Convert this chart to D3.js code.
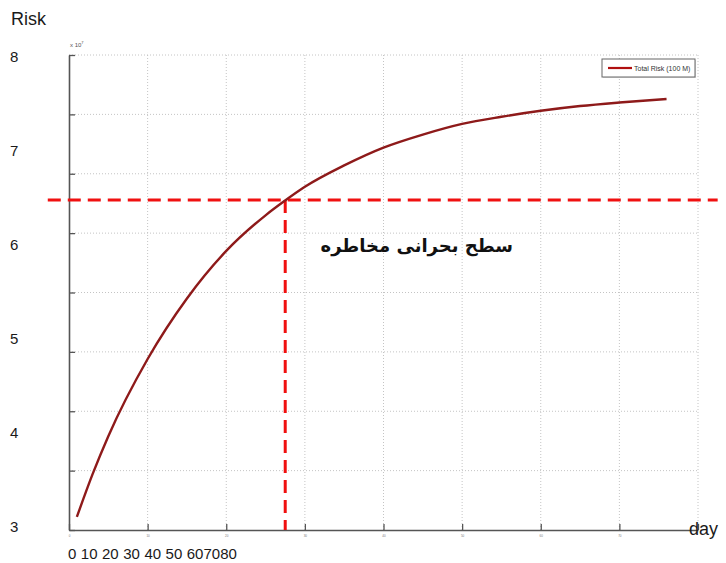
<!DOCTYPE html>
<html>
<head>
<meta charset="utf-8">
<script src="https://cdn.jsdelivr.net/npm/d3@7"></script>
<style>
  body { margin: 0; background: #fff; }
  svg { display: block; }
</style>
</head>
<body>
<svg id="chart" width="726" height="563"></svg>
<script>
// Data (risk in units of 10^7)
var days = [1, 3, 5, 10, 15, 20, 25, 27.4, 30, 35, 40, 45, 50, 55, 60, 65, 70, 76];
var risk = [3.11, 3.47, 3.79, 4.44, 4.95, 5.35, 5.65, 5.77, 5.89, 6.07, 6.22, 6.33, 6.42, 6.48, 6.53, 6.57, 6.60, 6.63];
var criticalDay = 27.5;
var criticalRisk = 5.78;
var dayTicks = [0, 10, 20, 30, 40, 50, 60, 70, 80];
var riskTicks = [3, 3.5, 4, 4.5, 5, 5.5, 6, 6.5, 7];
var outerRiskLabels = [3, 4, 5, 6, 7, 8];
var dayLabels = ["0", "10", "20", "30", "40", "50", "60", "70", "80"];
var legendLabel = "Total Risk (100 M)";
var noteText = "سطح بحرانی مخاطره";

var svg = d3.select("#chart");

// Dimensions
var plotLeft = 69, plotRight = 698, plotTop = 55, plotBottom = 530;

var x = d3.scaleLinear().domain([0, 80]).range([plotLeft, plotRight]);
var y = d3.scaleLinear().domain([3, 7]).range([plotBottom, plotTop]);
// hand written risk labels sit on their own scale
var yOuter = d3.scaleLinear().domain([3, 8]).range([527, 57]);

// grid
var grid = svg.append("g").attr("class", "grid");
grid.selectAll("line.vx")
  .data(dayTicks.slice(1))
  .enter().append("line")
  .attr("x1", function(d) { return x(d); })
  .attr("x2", function(d) { return x(d); })
  .attr("y1", plotTop).attr("y2", plotBottom);
grid.selectAll("line.hy")
  .data(riskTicks.slice(1))
  .enter().append("line")
  .attr("x1", plotLeft).attr("x2", plotRight)
  .attr("y1", function(d) { return y(d); })
  .attr("y2", function(d) { return y(d); });
grid.selectAll("line")
  .attr("stroke", "#c4c4c4")
  .attr("stroke-width", 1)
  .attr("stroke-dasharray", "1,2");

// axes
var xAxis = svg.append("g")
  .attr("transform", "translate(0," + plotBottom + ")")
  .call(d3.axisBottom(x).tickValues(dayTicks).tickSize(-6).tickPadding(4).tickSizeOuter(0)
    .tickFormat(function(d) { return d < 80 ? d : ""; }));
xAxis.selectAll("text").attr("font-size", 3).attr("fill", "#777").attr("dy", "0.9em");

var yAxis = svg.append("g")
  .attr("transform", "translate(" + plotLeft + ",0)")
  .call(d3.axisLeft(y).tickValues(riskTicks).tickSize(-6).tickSizeOuter(0).tickFormat(""));

svg.selectAll(".domain").attr("stroke", "#555").attr("stroke-width", 1.6);
svg.selectAll(".tick line").attr("stroke", "#555").attr("stroke-width", 1.3);

svg.append("text")
  .attr("x", plotLeft + 1).attr("y", 47)
  .attr("font-family", "Liberation Sans, sans-serif")
  .attr("font-size", 6).attr("fill", "#555")
  .text("x 10")
  .append("tspan").attr("dy", -3).attr("font-size", 4).text("7");

// critical level lines
var red = "#f01010";
svg.append("line")
  .attr("x1", x(-2.7)).attr("x2", x(82.5))
  .attr("y1", y(criticalRisk)).attr("y2", y(criticalRisk))
  .attr("stroke", red).attr("stroke-width", 3)
  .attr("stroke-dasharray", "13,7");
svg.append("line")
  .attr("x1", x(criticalDay)).attr("x2", x(criticalDay))
  .attr("y1", y(criticalRisk)).attr("y2", plotBottom)
  .attr("stroke", red).attr("stroke-width", 3)
  .attr("stroke-dasharray", "13,7");

// the risk curve
var line = d3.line()
  .x(function(d, i) { return x(days[i]); })
  .y(function(d) { return y(d); })
  .curve(d3.curveMonotoneX);

svg.append("path")
  .datum(risk)
  .attr("d", line)
  .attr("fill", "none")
  .attr("stroke", "#8e1a1a")
  .attr("stroke-width", 2.4);

// legend
var legend = svg.append("g").attr("transform", "translate(602,59)");
legend.append("rect")
  .attr("x", 1).attr("y", 1)
  .attr("width", 93).attr("height", 18)
  .attr("fill", "#ddd");
legend.append("rect")
  .attr("width", 93).attr("height", 18)
  .attr("fill", "#fff").attr("stroke", "#666").attr("stroke-width", 1);
legend.append("line")
  .attr("x1", 6).attr("x2", 30).attr("y1", 9).attr("y2", 9)
  .attr("stroke", "#b01010").attr("stroke-width", 2.2);
legend.append("text")
  .attr("x", 32).attr("y", 11.5)
  .attr("font-family", "Liberation Sans Narrow, Liberation Sans, sans-serif")
  .attr("font-size", 7).attr("fill", "#333")
  .text(legendLabel);

// hand written labels
var labelFont = "Liberation Sans, Arial, sans-serif";
svg.append("text")
  .attr("x", 11).attr("y", 25)
  .attr("font-family", labelFont).attr("font-size", 18).attr("fill", "#1a1a1a")
  .text("Risk");

svg.selectAll("text.outer")
  .data(outerRiskLabels)
  .enter().append("text")
  .attr("class", "outer")
  .attr("x", 10)
  .attr("y", function(d) { return yOuter(d); })
  .attr("dy", "0.35em")
  .attr("font-family", labelFont).attr("font-size", 15).attr("fill", "#1a1a1a")
  .text(function(d) { return d; });

svg.append("text")
  .attr("x", 689).attr("y", 535)
  .attr("font-family", labelFont).attr("font-size", 18).attr("fill", "#1a1a1a")
  .text("day");

var dayText = svg.append("text")
  .attr("x", 68).attr("y", 559)
  .attr("font-family", labelFont).attr("font-size", 15).attr("fill", "#1a1a1a");
dayText.selectAll("tspan")
  .data(dayLabels)
  .enter().append("tspan")
  .attr("dx", function(d, i) { return i === 0 || i > 6 ? 0 : 4.5; })
  .text(function(d) { return d; });

svg.append("text")
  .attr("x", 513).attr("y", 252)
  .attr("text-anchor", "end")
  .attr("font-family", "DejaVu Sans, sans-serif")
  .attr("font-weight", "bold")
  .attr("font-size", 18).attr("fill", "#111")
  .text(noteText);
</script>
</body>
</html>
